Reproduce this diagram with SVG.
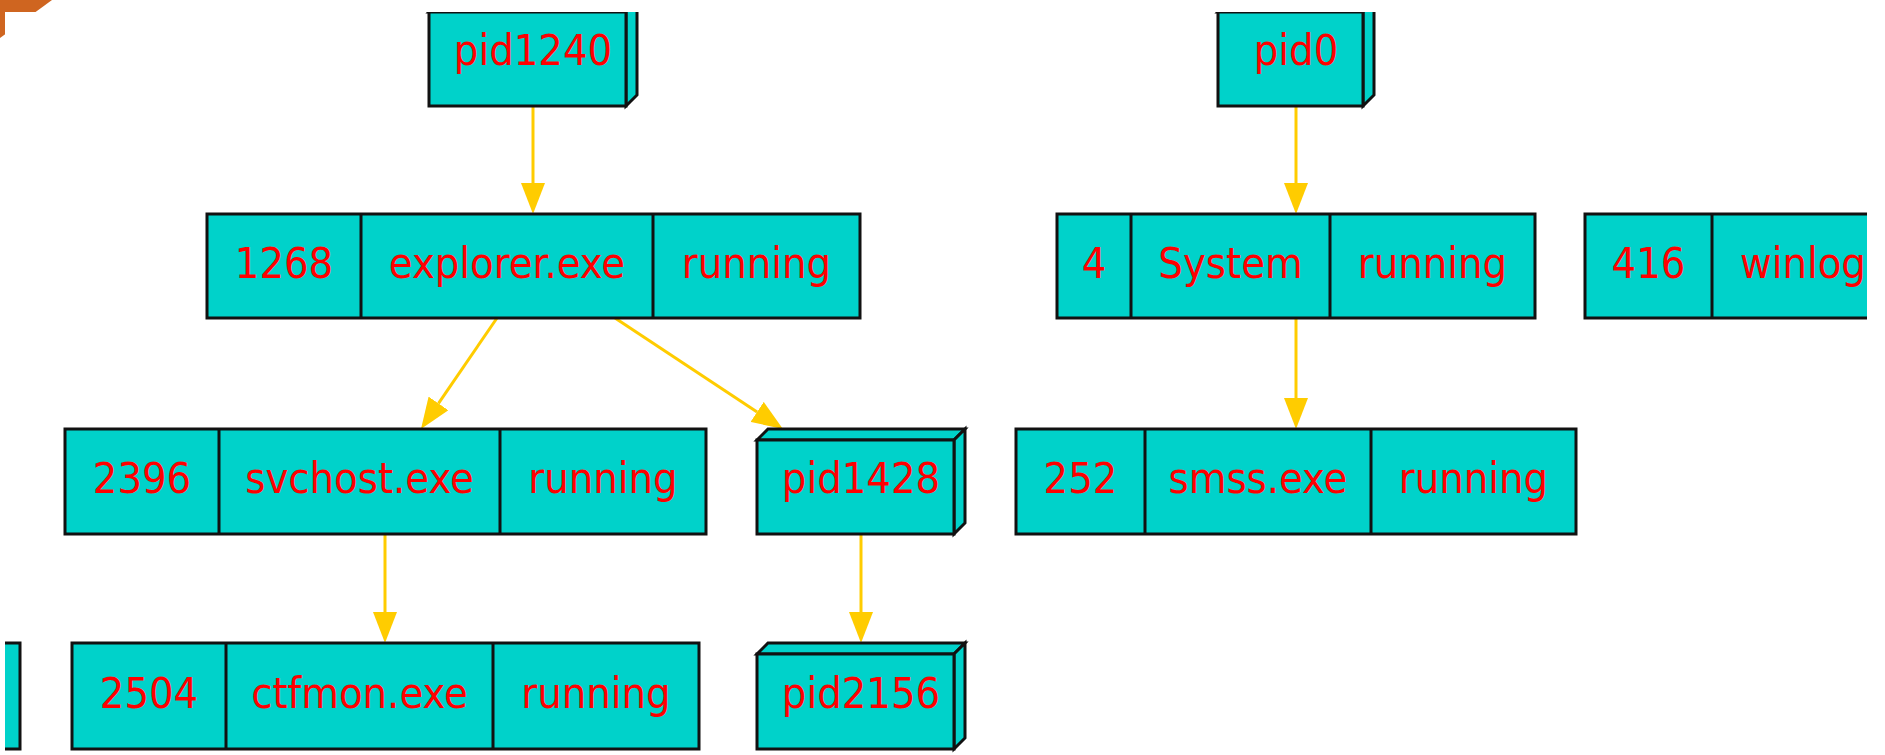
<svg xmlns="http://www.w3.org/2000/svg" width="1885" height="755" viewBox="0 0 1885 755">
<style>
.n{fill:#00D2CA;stroke:#111;stroke-width:3;stroke-linejoin:miter}
.d{stroke:#111;stroke-width:3}
.t{font-family:"DejaVu Sans Condensed","DejaVu Sans",sans-serif;font-stretch:condensed;font-size:43px;fill:#FF0000;text-anchor:middle}
.ts{font-family:"DejaVu Sans Condensed","DejaVu Sans",sans-serif;font-stretch:condensed;font-size:43px;fill:#FF0000;text-anchor:start}
.e{fill:none;stroke:#FFCC00;stroke-width:3}
</style>
<defs>
<marker id="ah" markerUnits="userSpaceOnUse" markerWidth="31" markerHeight="24" refX="0" refY="12" orient="auto" viewBox="0 0 31 24">
<path d="M0,0 L31,12 L0,24 z" fill="#FFCC00"/>
</marker>
<clipPath id="cp"><rect x="5" y="12" width="1862" height="743"/></clipPath>
</defs>
<rect x="0" y="0" width="1885" height="755" fill="#fff"/>
<polygon points="0,0 52,0 0,38" fill="#CF6520"/>
<rect x="5" y="12" width="1880" height="743" fill="#fff"/>
<g clip-path="url(#cp)">
<g id="connectors">
<path class="e" d="M533,106 L533,183" marker-end="url(#ah)"/>
<path class="e" d="M1296,106 L1296,183" marker-end="url(#ah)"/>
<path class="e" d="M1296,318 L1296,398" marker-end="url(#ah)"/>
<path class="e" d="M497,318 L438.5,403.4" marker-end="url(#ah)"/>
<path class="e" d="M615,318 L757.1,411.9" marker-end="url(#ah)"/>
<path class="e" d="M385,534 L385,612" marker-end="url(#ah)"/>
<path class="e" d="M861,534 L861,612" marker-end="url(#ah)"/>
</g>
<g id="pid1240">
<polygon class="n" points="429,12 440,1 637,1 626,12"/>
<polygon class="n" points="626,12 637,1 637,95 626,106"/>
<rect class="n" x="429" y="12" width="197" height="94"/>
<text class="t" x="533" y="65">pid1240</text>
</g>
<g id="pid0">
<polygon class="n" points="1218,12 1229,1 1374,1 1363,12"/>
<polygon class="n" points="1363,12 1374,1 1374,95 1363,106"/>
<rect class="n" x="1218" y="12" width="145" height="94"/>
<text class="t" x="1296" y="65">pid0</text>
</g>
<g id="p1268">
<rect class="n" x="207" y="214" width="653" height="104"/>
<line class="d" x1="361" y1="214" x2="361" y2="318"/>
<line class="d" x1="653" y1="214" x2="653" y2="318"/>
<text class="t" x="284" y="277.5">1268</text>
<text class="t" x="507" y="277.5">explorer.exe</text>
<text class="t" x="756.5" y="277.5">running</text>
</g>
<g id="p4">
<rect class="n" x="1057" y="214" width="478" height="104"/>
<line class="d" x1="1131" y1="214" x2="1131" y2="318"/>
<line class="d" x1="1330" y1="214" x2="1330" y2="318"/>
<text class="t" x="1094" y="277.5">4</text>
<text class="t" x="1230.5" y="277.5">System</text>
<text class="t" x="1432.5" y="277.5">running</text>
</g>
<g id="p416">
<rect class="n" x="1585" y="214" width="400" height="104"/>
<line class="d" x1="1712" y1="214" x2="1712" y2="318"/>
<text class="t" x="1648.5" y="277.5">416</text>
<text class="ts" x="1740" y="277.5">winlog</text>
</g>
<g id="p2396">
<rect class="n" x="65" y="429" width="641" height="105"/>
<line class="d" x1="219" y1="429" x2="219" y2="534"/>
<line class="d" x1="500" y1="429" x2="500" y2="534"/>
<text class="t" x="142" y="493">2396</text>
<text class="t" x="359.5" y="493">svchost.exe</text>
<text class="t" x="603" y="493">running</text>
</g>
<g id="pid1428">
<polygon class="n" points="757,440 768,429 965,429 954,440"/>
<polygon class="n" points="954,440 965,429 965,523 954,534"/>
<rect class="n" x="757" y="440" width="197" height="94"/>
<text class="t" x="861" y="493">pid1428</text>
</g>
<g id="p252">
<rect class="n" x="1016" y="429" width="560" height="105"/>
<line class="d" x1="1145" y1="429" x2="1145" y2="534"/>
<line class="d" x1="1371" y1="429" x2="1371" y2="534"/>
<text class="t" x="1080.5" y="493">252</text>
<text class="t" x="1258" y="493">smss.exe</text>
<text class="t" x="1473.5" y="493">running</text>
</g>
<g id="pleft">
<rect class="n" x="-100" y="643" width="120" height="106"/>
</g>
<g id="p2504">
<rect class="n" x="72" y="643" width="627" height="106"/>
<line class="d" x1="226" y1="643" x2="226" y2="749"/>
<line class="d" x1="493" y1="643" x2="493" y2="749"/>
<text class="t" x="149" y="707.5">2504</text>
<text class="t" x="359.5" y="707.5">ctfmon.exe</text>
<text class="t" x="596" y="707.5">running</text>
</g>
<g id="pid2156">
<polygon class="n" points="757,654 768,643 965,643 954,654"/>
<polygon class="n" points="954,654 965,643 965,738 954,749"/>
<rect class="n" x="757" y="654" width="197" height="95"/>
<text class="t" x="861" y="707.5">pid2156</text>
</g>
</g>
</svg>
